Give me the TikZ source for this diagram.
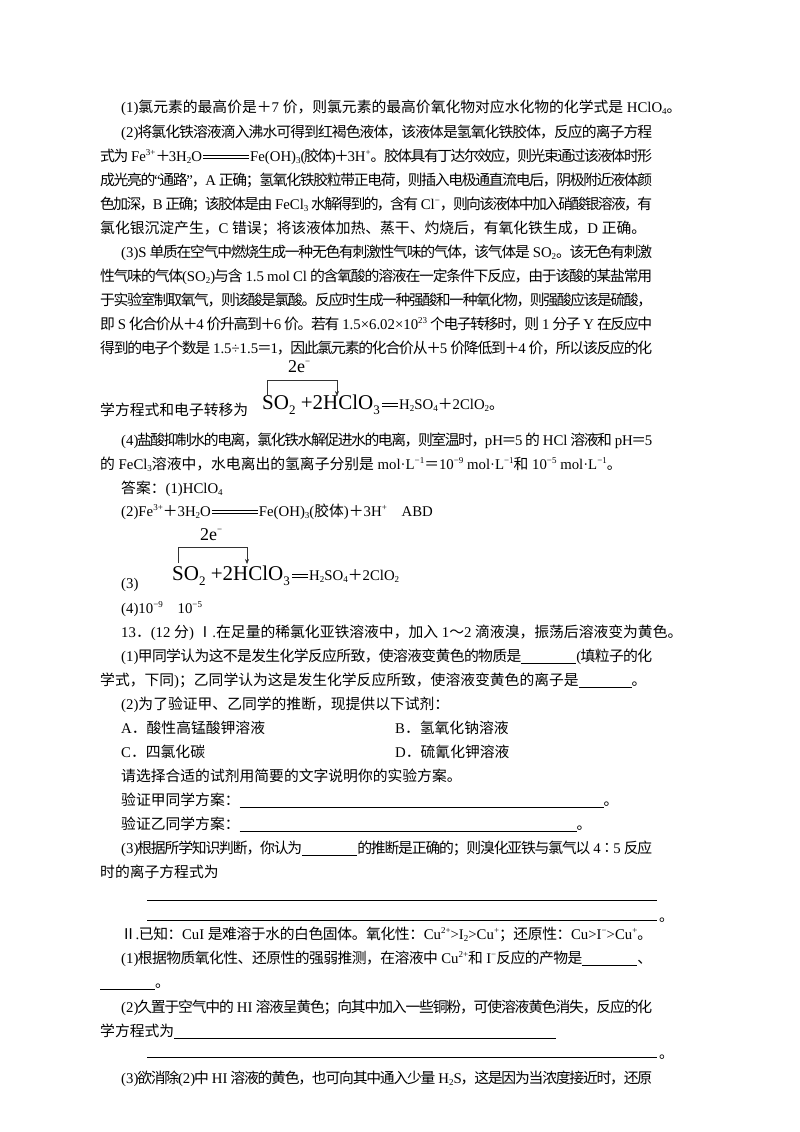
\documentclass[tikz,border=0pt]{standalone}
\usepackage{fontspec}
\setmainfont{Liberation Serif}
\newfontfamily\latf{Liberation Serif}
\newfontfamily\cjkf{Noto Sans CJK SC}
\usetikzlibrary{arrows.meta}
\XeTeXinterchartokenstate=1
\newXeTeXintercharclass\cjkc
\newcount\cc
\def\setrange#1#2{\cc=#1\relax\loop\XeTeXcharclass\cc=\cjkc\advance\cc by 1\relax\ifnum\cc<#2\repeat}
\setrange{"3000}{"3040}
\setrange{"4E00}{"A000}
\setrange{"FF00}{"FFF0}
\setrange{"2160}{"2170}
\XeTeXcharclass"2236=\cjkc
\def\jg{\hskip0pt plus 1.5pt minus 2pt\relax}
\XeTeXinterchartoks 0 \cjkc = {\jg\cjkf}
\XeTeXinterchartoks 4095 \cjkc = {\cjkf}
\XeTeXinterchartoks \cjkc 0 = {\jg\latf}
\XeTeXinterchartoks \cjkc 4095 = {\latf}
\XeTeXinterchartoks \cjkc \cjkc = {\jg}
\newcommand\up[1]{\raisebox{0.85ex}{\fontsize{9}{9}\selectfont #1}}
\newcommand\dn[1]{\raisebox{-0.4ex}{\fontsize{9}{9}\selectfont #1}}
\newcommand\bdn[1]{\raisebox{-0.55ex}{\fontsize{13}{13}\selectfont #1}}
\newcommand\lng[1]{\kern1pt\raisebox{2.6pt}{\rule{#1pt}{0.6pt}}\kern-#1pt\raisebox{5.6pt}{\rule{#1pt}{0.6pt}}\kern1pt}
\newcommand\blank[1]{\rule[-2pt]{#1pt}{0.5pt}}
\newcounter{ln}
\newcommand\T[3]{\stepcounter{ln}\node[txt] (t\arabic{ln}) at (#1,#2) {#3};}
\newcommand\J[3]{\stepcounter{ln}\node[txt] (t\arabic{ln}) at (#1,#2) {\makebox[\dimexpr652pt-#1pt\relax][s]{#3}};}
\tikzset{txt/.style={anchor=base west,inner sep=0pt,font=\fontsize{14.8}{15}\selectfont},
 big/.style={anchor=base west,inner sep=0pt,font=\fontsize{21}{21}\selectfont},
 brk/.style={line width=0.6pt,draw=black!80},
 ul/.style={line width=0.5pt}}
\begin{document}
\begin{tikzpicture}[x=1pt,y=-1pt]
\useasboundingbox (0,0) rectangle (800,1132);
\T{121}{112}{(1)氯元素的最高价是＋7 价，则氯元素的最高价氧化物对应水化物的化学式是 HClO\dn{4}。}
\J{121}{137}{(2)将氯化铁溶液滴入沸水可得到红褐色液体，该液体是氢氧化铁胶体，反应的离子方程}
\J{100}{161}{式为 Fe\up{3+}＋3H\dn{2}O\lng{46}Fe(OH)\dn{3}(胶体)＋3H\up{+}。胶体具有丁达尔效应，则光束通过该液体时形}
\J{100}{185}{成光亮的“通路”，A 正确；氢氧化铁胶粒带正电荷，则插入电极通直流电后，阴极附近液体颜}
\J{100}{209}{色加深，B 正确；该胶体是由 FeCl\dn{3} 水解得到的，含有 Cl\up{−}，则向该液体中加入硝酸银溶液，有}
\T{100}{233}{氯化银沉淀产生，C 错误；将该液体加热、蒸干、灼烧后，有氧化铁生成，D 正确。}
\J{121}{257}{(3)S 单质在空气中燃烧生成一种无色有刺激性气味的气体，该气体是 SO\dn{2}。该无色有刺激}
\J{100}{281}{性气味的气体(SO\dn{2})与含 1.5 mol Cl 的含氧酸的溶液在一定条件下反应，由于该酸的某盐常用}
\J{100}{305}{于实验室制取氧气，则该酸是氯酸。反应时生成一种强酸和一种氧化物，则强酸应该是硫酸，}
\J{100}{329}{即 S 化合价从＋4 价升高到＋6 价。若有 1.5×6.02×10\up{23} 个电子转移时，则 1 分子 Y 在反应中}
\J{100}{353}{得到的电子个数是 1.5÷1.5＝1，因此氯元素的化合价从＋5 价降低到＋4 价，所以该反应的化}
% equation 1
\T{100}{415}{学方程式和电子转移为}
\node[big] (eqa) at (262,409) {SO\bdn{2} +2HClO\bdn{3}};
\node[txt] (eqa2) at ([xshift=1pt]eqa.base east) {\lng{16}H\dn{2}SO\dn{4}＋2ClO\dn{2}。};
\node[txt] (ea) at (288,372) {\fontsize{18}{18}\selectfont 2e\up{−}};
\coordinate (a1) at (267,395);
\coordinate (a2) at (267,380);
\coordinate (a3) at (337,380);
\coordinate (a4) at (337,396);
\draw[brk] (a1) -- (a2) -- (a3);
\draw[brk,-{Stealth[length=5pt,width=4pt]}] (a3) -- (a4);
\J{121}{445}{(4)盐酸抑制水的电离，氯化铁水解促进水的电离，则室温时，pH＝5 的 HCl 溶液和 pH＝5}
\T{100}{469}{的 FeCl\dn{3}溶液中，水电离出的氢离子分别是 mol·L\up{−1}＝10\up{−9} mol·L\up{−1}和 10\up{−5} mol·L\up{−1}。}
\T{121}{493}{答案：(1)HClO\dn{4}}
\T{121}{516}{(2)Fe\up{3+}＋3H\dn{2}O\lng{46}Fe(OH)\dn{3}(胶体)＋3H\up{+}\quad ABD}
% equation 2
\T{121}{588}{(3)}
\node[big] (eqb) at (172,580) {SO\bdn{2} +2HClO\bdn{3}};
\node[txt] (eqb2) at ([xshift=1pt]eqb.base east) {\lng{16}H\dn{2}SO\dn{4}＋2ClO\dn{2}};
\node[txt] (eb) at (200,540) {\fontsize{18}{18}\selectfont 2e\up{−}};
\coordinate (b1) at (178,563);
\coordinate (b2) at (178,547);
\coordinate (b3) at (247,547);
\coordinate (b4) at (247,564);
\draw[brk] (b1) -- (b2) -- (b3);
\draw[brk,-{Stealth[length=5pt,width=4pt]}] (b3) -- (b4);
\T{121}{613}{(4)10\up{−9}\quad 10\up{−5}}
\T{121}{637}{13．(12 分) Ⅰ.在足量的稀氯化亚铁溶液中，加入 1～2 滴液溴，振荡后溶液变为黄色。}
\J{121}{661}{(1)甲同学认为这不是发生化学反应所致，使溶液变黄色的物质是\blank{55}(填粒子的化}
\T{100}{685}{学式，下同)；乙同学认为这是发生化学反应所致，使溶液变黄色的离子是\blank{53}。}
\T{121}{709}{(2)为了验证甲、乙同学的推断，现提供以下试剂：}
\T{121}{733}{A．酸性高锰酸钾溶液}
\T{395}{733}{B．氢氧化钠溶液}
\T{121}{757}{C．四氯化碳}
\T{395}{757}{D．硫氰化钾溶液}
\T{121}{781}{请选择合适的试剂用简要的文字说明你的实验方案。}
\T{121}{805}{验证甲同学方案：\blank{364}。}
\T{121}{829}{验证乙同学方案：\blank{337}。}
\J{121}{853}{(3)根据所学知识判断，你认为\blank{55}的推断是正确的；则溴化亚铁与氯气以 4∶5 反应}
\T{100}{877}{时的离子方程式为}
\coordinate (u1) at (147,900);
\coordinate (u2) at (657,900);
\draw[ul] (u1) -- (u2);
\coordinate (u3) at (147,920);
\coordinate (u4) at (657,920);
\draw[ul] (u3) -- (u4);
\T{659}{921}{。}
\J{121}{939}{Ⅱ.已知：CuI 是难溶于水的白色固体。氧化性：Cu\up{2+}>I\dn{2}>Cu\up{+}；还原性：Cu>I\up{−}>Cu\up{+}。}
\J{121}{963}{(1)根据物质氧化性、还原性的强弱推测，在溶液中 Cu\up{2+}和 I\up{−}反应的产物是\blank{55}、}
\T{100}{987}{\blank{55}。}
\J{121}{1012}{(2)久置于空气中的 HI 溶液呈黄色；向其中加入一些铜粉，可使溶液黄色消失，反应的化}
\T{100}{1036}{学方程式为\blank{382}}
\coordinate (u5) at (147,1057);
\coordinate (u6) at (657,1057);
\draw[ul] (u5) -- (u6);
\T{659}{1058}{。}
\J{121}{1083}{(3)欲消除(2)中 HI 溶液的黄色，也可向其中通入少量 H\dn{2}S，这是因为当浓度接近时，还原}
\end{tikzpicture}
\end{document}
